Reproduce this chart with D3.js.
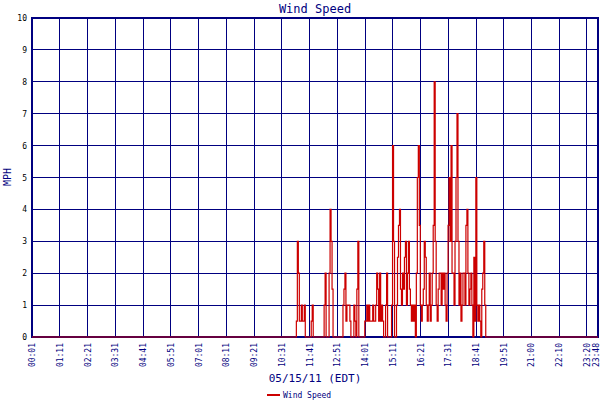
<!DOCTYPE html>
<html><head><meta charset="utf-8">
<script src="https://cdn.jsdelivr.net/npm/d3@7"></script>
<style>body{margin:0;background:#fff}text{font-family:"DejaVu Sans Mono",monospace;fill:#000080}</style>
</head><body><svg id="c" width="600" height="400"></svg>
<script>
// time ticks (minutes since midnight) and labels
const tickLabels = ["00:01","01:11","02:21","03:31","04:41","05:51","07:01","08:11","09:21","10:31","11:41","12:51","14:01","15:11","16:21","17:31","18:41","19:51","21:00","22:10","23:20","23:48"];
const yTicks = [0,1,2,3,4,5,6,7,8,9,10];
// wind samples: start 11:05, every 2.5 min
const sampleStart = 665, sampleStep = 2.5;
const windValues = [0,0.5,3,2,0.5,0.5,1,0.5,0.5,1,0,0,0,0,0,0,0.5,1,0,
0,0,0,0,0,0,0,0,0,0,1,2,0,0,0,2,4,3,1.5,0,
0,0,0,0,0,0,0,0,0,1,1.5,2,0.5,1,1,1,0.5,0,0,0,1,0.5,0,1.5,3,0,0,0,0,0,0,
0.5,0.5,1,0.5,1,0.5,0.5,0.5,1,0.5,0.5,1,2,1.5,0.5,2,0.5,1,0.5,0,0,1,2,0,0,0,0,
1,6,3,0,0,1,2.5,3.5,4,1.5,1,2,1.5,2.5,3,1,2,3,1.5,1,0.5,1,0.5,1,0,2,5,6,3.5,1,
0.5,1,1.5,3,2.5,1,0.5,1,2,0.5,1,2,3.5,8,3,1,0.5,1.5,2,2,1,2,1.5,2,1,0.5,2,3.5,
5,3,6,2,2,1,3,5,7,3,1,2,0.5,1,2,2,1,3.5,4,2,1,1.5,2,1,0,2.5,0.5,5,1,0.5,1,0.5,
0,1.5,2,3,1,0];
const toMin = s => { const [h,m] = s.split(":").map(Number); return h*60+m; };
const series = [{t:1,v:0}].concat(windValues.map((v,i)=>({t:sampleStart+i*sampleStep,v})), [{t:1428,v:0}]);

const svg = d3.select("#c");
const x = d3.scaleLinear().domain([1,1428]).range([32,598]);
const y = d3.scaleLinear().domain([0,10]).range([337,18]);

svg.append("text").attr("x",315).attr("y",13).attr("text-anchor","middle").attr("font-size",12).text("Wind Speed");

const g = svg.append("g").attr("shape-rendering","crispEdges");
g.selectAll(".gx").data(tickLabels).join("line")
  .attr("x1",d=>x(toMin(d))).attr("x2",d=>x(toMin(d))).attr("y1",18).attr("y2",337)
  .attr("stroke","#000080").attr("stroke-width",1);
g.selectAll(".gy").data(yTicks).join("line")
  .attr("x1",32).attr("x2",598).attr("y1",d=>y(d)).attr("y2",d=>y(d))
  .attr("stroke","#000080").attr("stroke-width",1);
g.append("rect").attr("x",32).attr("y",18).attr("width",566).attr("height",319)
  .attr("fill","none").attr("stroke","#000080").attr("stroke-width",1.5);

svg.selectAll(".yl").data(yTicks).join("text")
  .attr("x",27).attr("y",d=>y(d)+3).attr("text-anchor","end").attr("font-size",8).style("fill","#000").text(d=>d);
svg.selectAll(".xl").data(tickLabels).join("text")
  .attr("transform",d=>`translate(${Math.min(x(toMin(d))+3,599)},343) rotate(-90)`)
  .attr("text-anchor","end").attr("font-size",8).text(d=>d);

svg.append("text").attr("transform","translate(11,177) rotate(-90)").attr("text-anchor","middle").attr("font-size",10).text("MPH");
svg.append("text").attr("x",315).attr("y",382).attr("text-anchor","middle").attr("font-size",11).text("05/15/11 (EDT)");

const line = d3.line().curve(d3.curveStepAfter).x(d=>x(d.t)).y(d=>y(d.v));
svg.append("path").datum(series).attr("d",line).attr("fill","none").attr("stroke","#cc0000").attr("stroke-width",1.2);

svg.append("line").attr("x1",267).attr("x2",280).attr("y1",395).attr("y2",395).attr("stroke","#cc0000").attr("stroke-width",2);
svg.append("text").attr("x",283).attr("y",398).attr("font-size",8).text("Wind Speed");
</script></body></html>
